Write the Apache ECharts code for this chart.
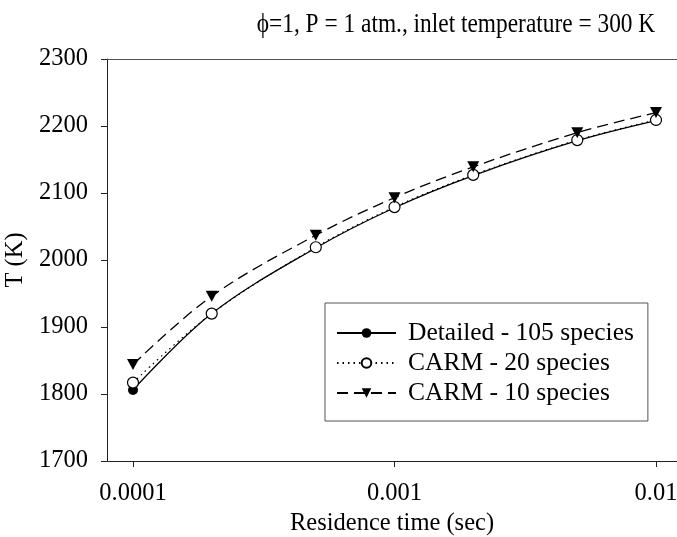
<!DOCTYPE html>
<html>
<head>
<meta charset="utf-8">
<script src="https://cdn.jsdelivr.net/npm/echarts@6/dist/echarts.min.js"></script>
<style>html,body{margin:0;padding:0;background:#fff}#c{width:677px;height:537px}</style>
</head>
<body>
<div id="c"></div>
<script>
const times = [0.0001, 0.0002, 0.0005, 0.001, 0.002, 0.005, 0.01];
const detailed = [1806, 1920, 2018, 2078, 2126, 2178, 2208];
const carm20 = [1817, 1920, 2019, 2079, 2127, 2179, 2209];
const carm10 = [1844, 1946, 2037, 2093, 2139, 2190, 2220];
const xTicks = [0.0001, 0.001, 0.01];
const xTickLabels = ['0.0001', '0.001', '0.01'];
const yTicks = [1700, 1800, 1900, 2000, 2100, 2200, 2300];
const titleText = 'ϕ=1, P = 1 atm., inlet temperature = 300 K';

const FONT = '"Liberation Serif", "Times New Roman", serif';
const pair = arr => times.map((t, i) => [t, arr[i]]);
const xMin = Math.pow(10, -4.0994);
const xMax = Math.pow(10, -1.9197);

const chart = echarts.init(document.getElementById('c'), null, {renderer: 'canvas'});
chart.setOption({
  animation: false,
  backgroundColor: '#fff',
  graphic: [{
    type: 'text', x: 456, y: 25, scaleX: 0.85,
    style: {text: titleText, fontFamily: FONT, fontSize: 27.5, fill: '#000', align: 'center', verticalAlign: 'middle'}
  }],
  grid: {left: 107, top: 59, right: 0, bottom: 76, containLabel: false, outerBoundsMode: 'none'},
  legend: {
    orient: 'vertical', left: 325, top: 303,
    data: ['Detailed - 105 species', 'CARM - 20 species', 'CARM - 10 species'],
    borderColor: '#555', borderWidth: 1,
    padding: [17, 14, 15, 11],
    itemWidth: 59, itemHeight: 12, itemGap: 4,
    textStyle: {fontFamily: FONT, fontSize: 25.5, color: '#000', padding: [0, 0, 0, 7]}
  },
  xAxis: [{
    type: 'log', min: xMin, max: xMax, position: 'bottom',
    name: 'Residence time (sec)', nameLocation: 'middle', nameGap: 46,
    nameTextStyle: {fontFamily: FONT, fontSize: 24.5, color: '#000'},
    axisLine: {show: true, lineStyle: {color: '#222', width: 1}},
    axisTick: {show: true, inside: false, length: 6, customValues: xTicks, lineStyle: {color: '#222'}},
    minorTick: {show: false},
    axisLabel: {customValues: xTicks, fontFamily: FONT, fontSize: 24.5, color: '#000', margin: 20, hideOverlap: false,
      formatter: v => { const i = xTicks.findIndex(t => Math.abs(Math.log10(t) - Math.log10(v)) < 1e-6); return i >= 0 ? xTickLabels[i] : ''; }},
    splitLine: {show: false}
  }, {
    type: 'log', min: xMin, max: xMax, position: 'top',
    axisLine: {show: true, lineStyle: {color: '#555', width: 1}},
    axisTick: {show: false}, axisLabel: {show: false}, splitLine: {show: false}
  }],
  yAxis: {
    type: 'value', min: 1700, max: 2300, interval: 100,
    name: 'T (K)', nameLocation: 'middle', nameGap: 75, nameRotate: 90,
    nameTextStyle: {fontFamily: FONT, fontSize: 24.5, color: '#000'},
    axisLine: {show: true, lineStyle: {color: '#222', width: 1}},
    axisTick: {show: true, inside: false, length: 6, lineStyle: {color: '#222'}},
    axisLabel: {fontFamily: FONT, fontSize: 24.5, color: '#000', margin: 19, formatter: v => String(v)},
    splitLine: {show: false}
  },
  series: [{
    name: 'Detailed - 105 species', type: 'line', smooth: 0.35,
    data: pair(detailed),
    symbol: 'circle', symbolSize: 10,
    itemStyle: {color: '#000'},
    lineStyle: {color: '#000', width: 1.3, type: 'solid'}
  }, {
    name: 'CARM - 20 species', type: 'line', smooth: 0.35,
    data: pair(carm20),
    symbol: 'circle', symbolSize: 11,
    itemStyle: {color: '#fff', borderColor: '#000', borderWidth: 1.2},
    lineStyle: {color: '#000', width: 1.2, type: [1.5, 4]}
  }, {
    name: 'CARM - 10 species', type: 'line', smooth: 0.35,
    data: pair(carm10),
    symbol: 'triangle', symbolRotate: 180, symbolSize: [12, 11],
    itemStyle: {color: '#000'},
    lineStyle: {color: '#000', width: 1.3, type: [11, 6]}
  }]
});
</script>
</body>
</html>
